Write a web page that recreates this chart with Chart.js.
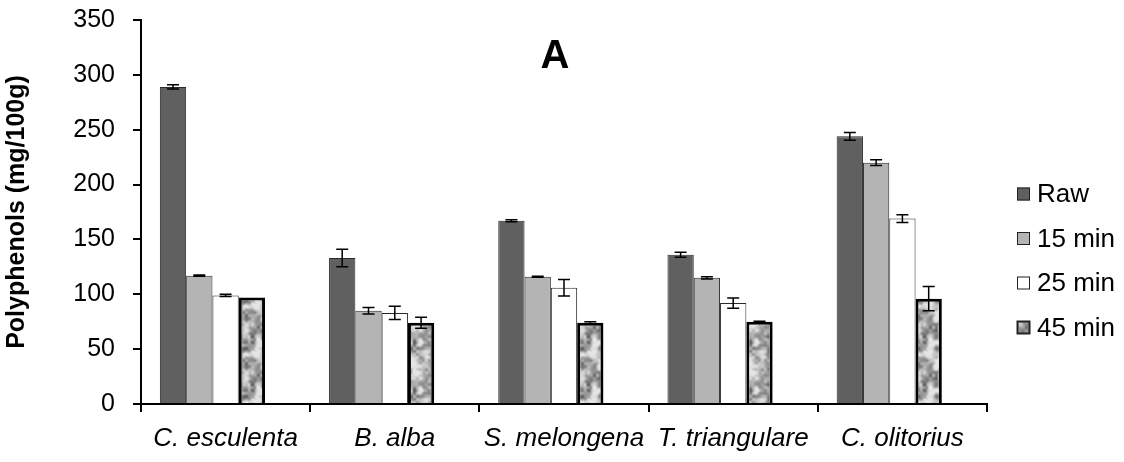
<!DOCTYPE html>
<html>
<head>
  <meta charset="UTF-8">
  <title>Polyphenols</title>
  <script src="https://cdn.jsdelivr.net/npm/chart.js"></script>
  <style>
    html, body { margin: 0; padding: 0; background: #fff; }
    #wrap { width: 1124px; height: 462px; }
  </style>
</head>
<body>
  <div id="wrap"><canvas id="chart" width="1124" height="462"></canvas></div>

  <script>
    // values
    const categories = ['C. esculenta', 'B. alba', 'S. melongena', 'T. triangulare', 'C. olitorius'];
    const seriesNames = ['Raw', '15 min', '25 min', '45 min'];

    const rawValues = [289, 133, 167, 136, 244];
    const min15Values = [117, 85, 116, 115, 220];
    const min25Values = [99, 83, 106, 92, 169];
    const min45Values = [97, 74, 74, 75, 96];

    const rawErr = [2, 8, 1, 2.3, 3.5];
    const min15Err = [0.5, 3, 0.5, 1, 2.7];
    const min25Err = [1, 6, 7.5, 4.7, 3.5];
    const min45Err = [0, 5, 1, 0.5, 11];

    const yTicks = [0, 50, 100, 150, 200, 250, 300, 350];

    const FONT = '"Liberation Sans", Arial, sans-serif';

    // mottled grey fill for the 45 min bars (hash based value noise, no randomness)
    function hash(x, y) {
      let h = Math.imul(x, 374761393) ^ Math.imul(y, 668265263);
      h = Math.imul(h ^ (h >>> 13), 1274126177);
      h = h ^ (h >>> 16);
      return (h >>> 0) / 4294967295;
    }
    function smoothNoise(x, y, cell, period) {
      const gx = Math.floor(x / cell), gy = Math.floor(y / cell);
      const fx = x / cell - gx, fy = y / cell - gy;
      const sx = fx * fx * (3 - 2 * fx), sy = fy * fy * (3 - 2 * fy);
      const p = period / cell;
      const v = (i, j) => hash(((gx + i) % p + p) % p + 11, ((gy + j) % p + p) % p + 37);
      const a = v(0, 0) + (v(1, 0) - v(0, 0)) * sx;
      const b = v(0, 1) + (v(1, 1) - v(0, 1)) * sx;
      return a + (b - a) * sy;
    }
    function makeTexture() {
      const S = 48;
      const c = document.createElement('canvas');
      c.width = S; c.height = S;
      const g = c.getContext('2d');
      const img = g.createImageData(S, S);
      for (let y = 0; y < S; y++) {
        for (let x = 0; x < S; x++) {
          const n = 0.65 * smoothNoise(x, y, 6, S) + 0.35 * smoothNoise(x, y, 3, S);
          const v = Math.max(100, Math.min(228, 255 - Math.pow(n, 1.4) * 190));
          const i = (y * S + x) * 4;
          img.data[i] = v; img.data[i + 1] = v; img.data[i + 2] = v; img.data[i + 3] = 255;
        }
      }
      g.putImageData(img, 0, 0);
      return g.createPattern(c, 'repeat');
    }
    const texture = makeTexture();

    const errors = [rawErr, min15Err, min25Err, min45Err];

    const errorBars = {
      id: 'errorBars',
      afterDatasetsDraw(chart) {
        const ctx = chart.ctx;
        const y = chart.scales.y;
        ctx.save();
        ctx.strokeStyle = '#000';
        ctx.lineWidth = 1.5;
        errors.forEach((errs, di) => {
          const meta = chart.getDatasetMeta(di);
          meta.data.forEach((bar, j) => {
            const v = chart.data.datasets[di].data[j];
            const e = errs[j];
            if (!e) return;
            const top = y.getPixelForValue(v + e);
            const bot = y.getPixelForValue(v - e);
            const x = bar.x;
            ctx.beginPath();
            ctx.moveTo(x, top); ctx.lineTo(x, bot);
            ctx.moveTo(x - 6, top); ctx.lineTo(x + 6, top);
            ctx.moveTo(x - 6, bot); ctx.lineTo(x + 6, bot);
            ctx.stroke();
          });
        });
        ctx.restore();
      }
    };

    const extras = {
      id: 'extras',
      afterDraw(chart) {
        const ctx = chart.ctx;
        const area = chart.chartArea;
        ctx.save();
        // panel letter
        ctx.fillStyle = '#000';
        ctx.font = 'bold 40px ' + FONT;
        ctx.textAlign = 'center';
        ctx.textBaseline = 'middle';
        ctx.fillText('A', (area.left + area.right) / 2 - 9, 57);
        // legend
        ctx.font = '26px ' + FONT;
        ctx.textAlign = 'left';
        seriesNames.forEach((name, i) => {
          const ds = chart.data.datasets[i];
          const cy = 194 + i * 44.5;
          ctx.fillStyle = ds.backgroundColor;
          ctx.fillRect(1017, cy - 6.5, 13, 13);
          ctx.strokeStyle = '#222';
          ctx.lineWidth = i === 3 ? 2 : 1;
          ctx.strokeRect(1017.5, cy - 6, 12, 12);
          ctx.fillStyle = '#000';
          ctx.fillText(name, 1037, cy + 1);
        });
        ctx.restore();
      }
    };

    const ctx = document.getElementById('chart').getContext('2d');
    new Chart(ctx, {
      type: 'bar',
      data: {
        labels: categories,
        datasets: [
          { label: seriesNames[0], data: rawValues, backgroundColor: '#606060', borderColor: '#2a2a2a', borderWidth: 1 },
          { label: seriesNames[1], data: min15Values, backgroundColor: '#b4b4b4', borderColor: '#2a2a2a', borderWidth: 1 },
          { label: seriesNames[2], data: min25Values, backgroundColor: '#ffffff', borderColor: '#2a2a2a', borderWidth: 1 },
          { label: seriesNames[3], data: min45Values, backgroundColor: texture, borderColor: '#000', borderWidth: 3 },
          // empty slot kept by the original layout
          { label: '', data: [null, null, null, null, null], backgroundColor: 'rgba(0,0,0,0)' }
        ]
      },
      options: {
        responsive: false,
        animation: false,
        layout: { padding: { left: 0, right: 137, top: 20, bottom: 0 } },
        datasets: { bar: { categoryPercentage: 0.777, barPercentage: 1 } },
        plugins: {
          legend: { display: false },
          tooltip: { enabled: false }
        },
        scales: {
          x: {
            afterFit(scale) { scale.height = 58; },
            border: { display: true, color: '#000', width: 2 },
            grid: { display: true, offset: true, drawOnChartArea: false, drawTicks: true, tickLength: 8, color: '#000', lineWidth: 2 },
            ticks: { color: '#000', padding: 11, autoSkip: false, font: { family: FONT, size: 26, style: 'italic' }, maxRotation: 0 }
          },
          y: {
            min: 0,
            max: 350,
            afterFit(scale) {
              scale.width = 141;
              scale.paddingTop = 0;
              scale.paddingBottom = 0;
            },
            afterBuildTicks(scale) { scale.ticks = yTicks.map(v => ({ value: v })); },
            border: { display: true, color: '#000', width: 2 },
            grid: { drawOnChartArea: false, drawTicks: true, tickLength: 8, color: '#000', lineWidth: 2 },
            ticks: { color: '#000', padding: 18, font: { family: FONT, size: 25 } },
            title: {
              display: true,
              text: 'Polyphenols (mg/100g)',
              color: '#000',
              font: { family: FONT, size: 25, weight: 'bold' },
              padding: { top: 2, bottom: 0 }
            }
          }
        }
      },
      plugins: [errorBars, extras]
    });
  </script>
</body>
</html>
